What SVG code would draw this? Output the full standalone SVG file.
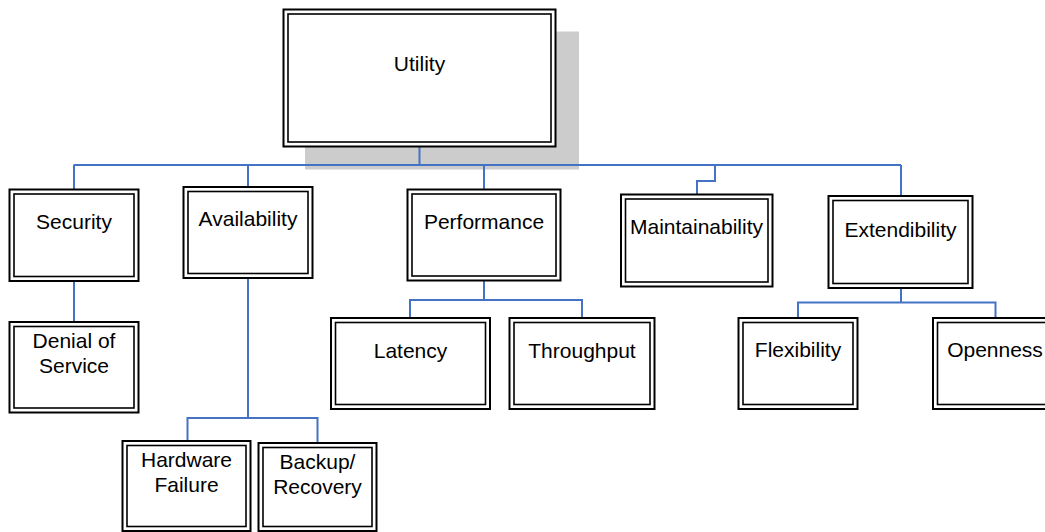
<svg xmlns="http://www.w3.org/2000/svg" width="1045" height="532" viewBox="0 0 1045 532">
  <style>
    .outer { fill: #ffffff; stroke: #000000; stroke-width: 2; }
    .inner { fill: none; stroke: #000000; stroke-width: 1.6; }
    .lbl { font-family: "Liberation Sans", Arial, sans-serif; font-size: 21px; fill: #000000; text-anchor: middle; }
    .conn { fill: none; stroke: #4472C4; stroke-width: 2; }
  </style>
  <rect width="1045" height="532" fill="#ffffff"/>

  <!-- drop shadow behind the root box -->
  <rect x="305" y="31.5" width="274" height="138" fill="#cccccc"/>

  <g id="connectors">
    <path class="conn" d="M419.5 147 V165"/>
    <path class="conn" d="M73.5 165 H901"/>
    <path class="conn" d="M74 165 V189.5"/>
    <path class="conn" d="M248 165 V187"/>
    <path class="conn" d="M484 165 V189.5"/>
    <path class="conn" d="M715 165 V181 H697 V194.5"/>
    <path class="conn" d="M901 165 V196"/>
    <path class="conn" d="M74 281 V322"/>
    <path class="conn" d="M248 278 V418"/>
    <path class="conn" d="M187.5 441 V418 H317.5 V443"/>
    <path class="conn" d="M484 281 V300"/>
    <path class="conn" d="M410 318 V300 H582 V318"/>
    <path class="conn" d="M901 288 V302.5"/>
    <path class="conn" d="M798 318 V302.5 H995.5 V318"/>
  </g>

  <g id="utility">
    <rect class="outer" x="283.5" y="9.5" width="272" height="137"/>
    <rect class="inner" x="288" y="14" width="263" height="128"/>
    <text class="lbl" x="419.5" y="71">Utility</text>
  </g>

  <g id="security">
    <rect class="outer" x="9.5" y="189.5" width="129" height="91.5"/>
    <rect class="inner" x="14" y="194" width="120" height="82.5"/>
    <text class="lbl" x="74" y="229">Security</text>
  </g>

  <g id="availability">
    <rect class="outer" x="183.5" y="187" width="129" height="91"/>
    <rect class="inner" x="188" y="191.5" width="120" height="82"/>
    <text class="lbl" x="248" y="226">Availability</text>
  </g>

  <g id="performance">
    <rect class="outer" x="407.5" y="189.5" width="153" height="91"/>
    <rect class="inner" x="412" y="194" width="144" height="82"/>
    <text class="lbl" x="484" y="228.5">Performance</text>
  </g>

  <g id="maintainability">
    <rect class="outer" x="621" y="194.5" width="151.5" height="92"/>
    <rect class="inner" x="625.5" y="199" width="142.5" height="83"/>
    <text class="lbl" x="696.5" y="234">Maintainability</text>
  </g>

  <g id="extendibility">
    <rect class="outer" x="828.5" y="196" width="144" height="92"/>
    <rect class="inner" x="833" y="200.5" width="135" height="83"/>
    <text class="lbl" x="900.5" y="237">Extendibility</text>
  </g>

  <g id="denial-of-service">
    <rect class="outer" x="9.5" y="322" width="129" height="90.5"/>
    <rect class="inner" x="14" y="326.5" width="120" height="81.5"/>
    <text class="lbl" x="74" y="347.5">Denial of</text>
    <text class="lbl" x="74" y="372.5">Service</text>
  </g>

  <g id="latency">
    <rect class="outer" x="331" y="318" width="159" height="91"/>
    <rect class="inner" x="335.5" y="322.5" width="150" height="82"/>
    <text class="lbl" x="410.5" y="357.5">Latency</text>
  </g>

  <g id="throughput">
    <rect class="outer" x="509.5" y="318" width="145" height="91"/>
    <rect class="inner" x="514" y="322.5" width="136" height="82"/>
    <text class="lbl" x="582" y="357.5">Throughput</text>
  </g>

  <g id="flexibility">
    <rect class="outer" x="738.5" y="318" width="119" height="91"/>
    <rect class="inner" x="743" y="322.5" width="110" height="82"/>
    <text class="lbl" x="798" y="357">Flexibility</text>
  </g>

  <g id="openness">
    <rect class="outer" x="933" y="318" width="125" height="91"/>
    <rect class="inner" x="937.5" y="322.5" width="116" height="82"/>
    <text class="lbl" x="995" y="357">Openness</text>
  </g>

  <g id="hardware-failure">
    <rect class="outer" x="122.5" y="441" width="128" height="90"/>
    <rect class="inner" x="127" y="445.5" width="119" height="81"/>
    <text class="lbl" x="186.5" y="467">Hardware</text>
    <text class="lbl" x="186.5" y="492">Failure</text>
  </g>

  <g id="backup-recovery">
    <rect class="outer" x="258.5" y="443" width="118" height="88"/>
    <rect class="inner" x="263" y="447.5" width="109" height="79"/>
    <text class="lbl" x="317.5" y="468.5">Backup/</text>
    <text class="lbl" x="317.5" y="494">Recovery</text>
  </g>
</svg>
